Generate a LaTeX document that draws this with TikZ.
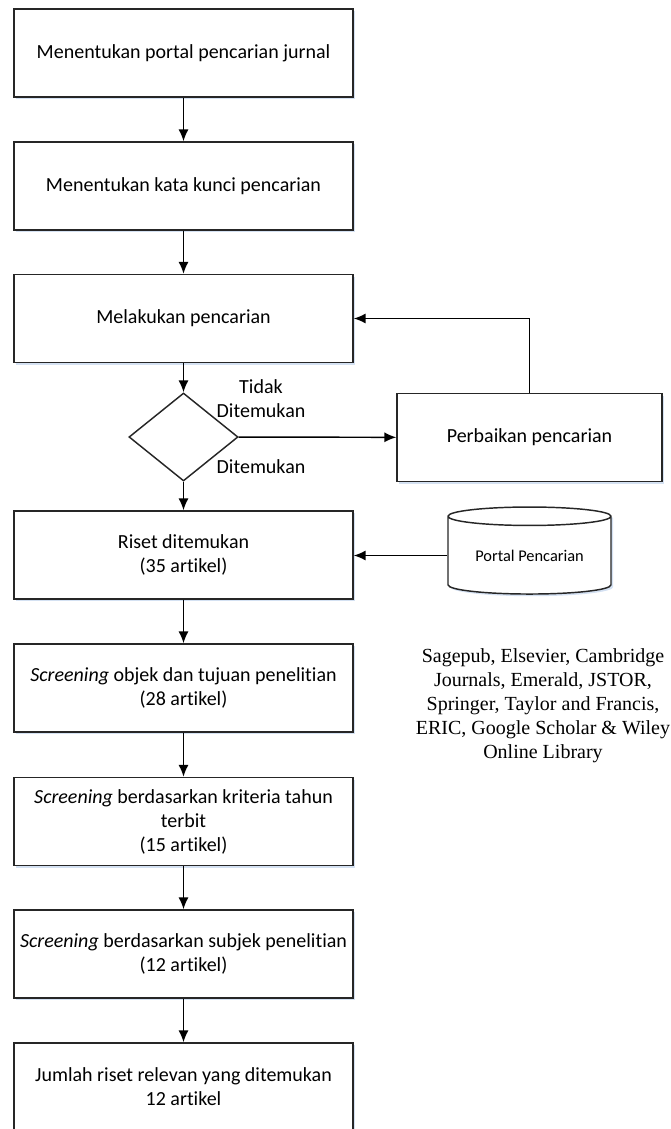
\documentclass[tikz,border=0pt]{standalone}
\usepackage{fontspec}
\setmainfont{Carlito}[Ligatures=NoCommon]
\newfontfamily\timesfont{Liberation Serif}
\usetikzlibrary{arrows.meta,shapes.geometric,shadows,calc,positioning}
\tikzset{>={Latex[length=6.5pt,width=5.5pt]}}
\definecolor{shadowblue}{RGB}{170,195,230}

\begin{document}
\begin{tikzpicture}[x=0.55pt,y=-0.55pt,font=\fontsize{11}{13.2}\selectfont]

        % Setup the styles for the blocks
        \tikzset{box style/.style={rectangle,
                                   minimum width=186.45pt,
                                   minimum height=48.4pt,
                                   inner sep=0pt,
                                   line width=0.8pt,
                                   align=center,
                                   draw=black!85,
                                   fill=white,
                                   drop shadow={shadow xshift=1.2pt,shadow yshift=-1.2pt,fill=shadowblue,opacity=0.5}},
                 decision style/.style={diamond,
                                   minimum width=60pt,
                                   minimum height=48.4pt,
                                   inner sep=0pt,
                                   line width=0.8pt,
                                   draw=black!85,
                                   fill=white},
                 db style/.style={cylinder,
                                   shape border rotate=90,
                                   aspect=0.17,
                                   minimum width=89.65pt,
                                   minimum height=47.85pt,
                                   inner sep=0pt,
                                   line width=0.8pt,
                                   draw=black!85,
                                   fill=white,
                                   font=\fontsize{9}{10.8}\selectfont,
                                   drop shadow={shadow xshift=1.2pt,shadow yshift=-1.2pt,fill=shadowblue,opacity=0.5}},
                 flow/.style={->,line width=0.8pt,draw=black}}

        \useasboundingbox (0,0) rectangle (670,1129);

        % Draw the blocks
        \node[box style] at (183.5, 53)    (b1)   {Menentukan portal pencarian jurnal};
        \node[box style] at (183.5, 186)   (b2)   {Menentukan kata kunci pencarian};
        \node[box style] at (183.5, 318.5) (b3)   {Melakukan pencarian};
        \node[decision style] at (183.5, 437) (dec) {};
        \node[box style, minimum width=145.75pt] at (529.5, 437.5) (perb) {Perbaikan pencarian};
        \node[box style] at (183.5, 555)   (riset) {Riset ditemukan\\(35 artikel)};
        \node[db style]  at (529.5, 555.5) (portal) {Portal Pencarian};
        \node[box style] at (183.5, 688)   (s1)   {\textit{Screening} objek dan tujuan penelitian\\(28 artikel)};
        \node[box style] at (183.5, 821.5) (s2)   {\textit{Screening} berdasarkan kriteria tahun\\terbit\\(15 artikel)};
        \node[box style] at (183.5, 954)   (s3)   {\textit{Screening} berdasarkan subjek penelitian\\(12 artikel)};
        \node[box style] at (183.5, 1087)  (s4)   {Jumlah riset relevan yang ditemukan\\12 artikel};

        % Labels and list of portals
        \node[align=center] at (261, 399) (tidak) {Tidak\\Ditemukan};
        \node at (261, 467) (ketemu) {Ditemukan};
        \node[align=center, font=\timesfont\fontsize{11}{13.2}\selectfont] at (543, 706) (daftar)
            {Sagepub, Elsevier, Cambridge\\Journals, Emerald, JSTOR,\\Springer, Taylor and Francis,\\ERIC, Google Scholar \& Wiley\\Online Library};

        % Connect the blocks with arrows
        \draw[flow] (b1) -- (b2);
        \draw[flow] (b2) -- (b3);
        \draw[flow] (b3) -- (dec);
        \draw[flow] (dec) -- (riset);
        \draw[flow] (dec) -- (perb);
        \draw[flow] (perb.north) |- (b3.east);
        \draw[flow] (portal.west) -- (portal.west -| riset.east);
        \draw[flow] (riset) -- (s1);
        \draw[flow] (s1) -- (s2);
        \draw[flow] (s2) -- (s3);
        \draw[flow] (s3) -- (s4);
\end{tikzpicture}
\end{document}
